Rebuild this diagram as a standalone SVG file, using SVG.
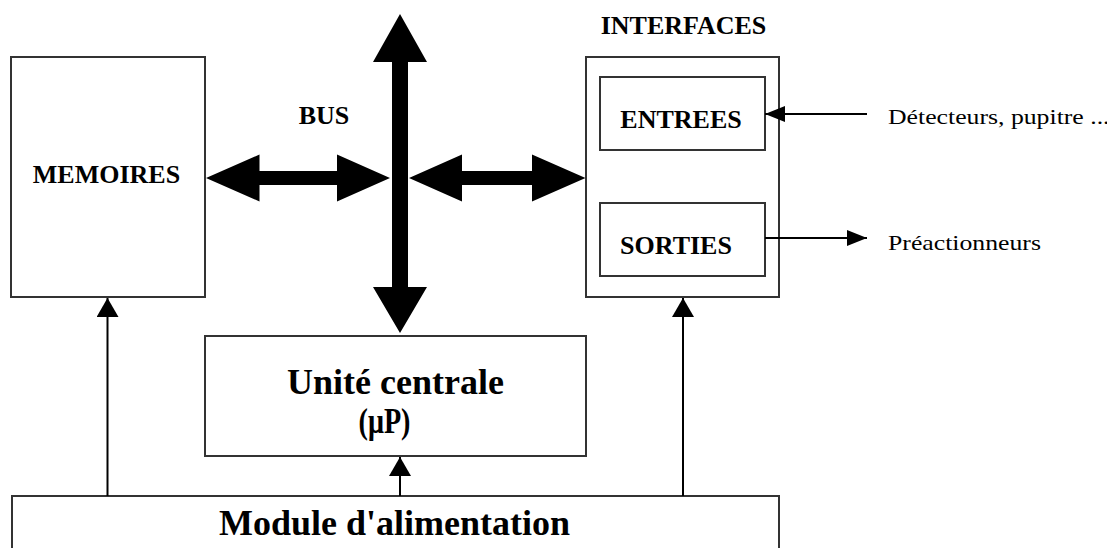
<svg xmlns="http://www.w3.org/2000/svg" width="1107" height="548" viewBox="0 0 1107 548">
<style>
.box{fill:#fff;stroke:#333;stroke-width:2}
.bus{fill:#000}
.wire{stroke:#000;stroke-width:2;fill:none}
.lbl{font-family:"Liberation Serif","Times New Roman",serif;font-weight:bold;font-size:26px;fill:#000}
.big{font-family:"Liberation Serif","Times New Roman",serif;font-weight:bold;font-size:36px;fill:#000}
.reg{font-family:"Liberation Serif","Times New Roman",serif;font-size:22px;fill:#000}
</style>
<defs>
<marker id="ahP" markerUnits="userSpaceOnUse" markerWidth="20" markerHeight="22" refX="19" refY="11" orient="auto">
<path d="M0,0 L19,11 L0,22 Z" fill="#000"/>
</marker>
<marker id="ahS" markerUnits="userSpaceOnUse" markerWidth="21" markerHeight="17" refX="20" refY="8" orient="auto">
<path d="M0,0 L20,8 L0,16 Z" fill="#000"/>
</marker>
</defs>
<rect width="1107" height="548" fill="#fff"/>

<g id="memoires">
<rect class="box" x="11" y="57" width="194" height="240"/>
<text class="lbl" x="106.5" y="183" text-anchor="middle">MEMOIRES</text>
</g>

<g id="interfaces">
<text class="lbl" x="683.5" y="34" text-anchor="middle">INTERFACES</text>
<rect class="box" x="586" y="57" width="193" height="240"/>
</g>

<g id="entrees">
<rect class="box" x="600" y="77" width="165" height="73"/>
<text class="lbl" x="681" y="128" text-anchor="middle">ENTREES</text>
</g>

<g id="sorties">
<rect class="box" x="600" y="203" width="165" height="73"/>
<text class="lbl" x="676" y="254" text-anchor="middle">SORTIES</text>
</g>

<g id="unite-centrale">
<rect class="box" x="205" y="336" width="381" height="120"/>
<text class="big" x="395.5" y="394" text-anchor="middle">Unité centrale</text>
<text class="big" x="384.5" y="433" text-anchor="middle" font-size="34" textLength="52" lengthAdjust="spacingAndGlyphs">(μP)</text>
</g>

<g id="module-alimentation">
<rect class="box" x="12" y="496" width="767" height="60"/>
<text class="big" x="394.5" y="535" text-anchor="middle">Module d'alimentation</text>
</g>

<g id="bus-label">
<text class="lbl" x="324" y="124" text-anchor="middle">BUS</text>
</g>

<g id="ext-labels">
<text class="reg" transform="translate(888,123.5) scale(1.17,1)">Détecteurs, pupitre ...</text>
<text class="reg" transform="translate(888,250) scale(1.17,1)">Préactionneurs</text>
</g>

<g id="connectors">
<polygon class="bus" points="400,14 427,62 408,62 408,287 427,287 400,333 373,287 392,287 392,62 373,62"/>
<polygon class="bus" points="206,178 259.5,154.5 259.5,171 337,171 337,154.5 390,178 337,201.5 337,185 259.5,185 259.5,201.5"/>
<polygon class="bus" points="409,178 462,154.5 462,171 532,171 532,154.5 585.5,178 532,201.5 532,185 462,185 462,201.5"/>
<line class="wire" x1="107.5" y1="496" x2="107.5" y2="298" marker-end="url(#ahP)"/>
<line class="wire" x1="400" y1="496" x2="400" y2="457" marker-end="url(#ahP)"/>
<line class="wire" x1="683" y1="496" x2="683" y2="298" marker-end="url(#ahP)"/>
<line class="wire" x1="867" y1="114" x2="765" y2="114" marker-end="url(#ahS)"/>
<line class="wire" x1="765" y1="238" x2="867" y2="238" marker-end="url(#ahS)"/>
</g>
</svg>
